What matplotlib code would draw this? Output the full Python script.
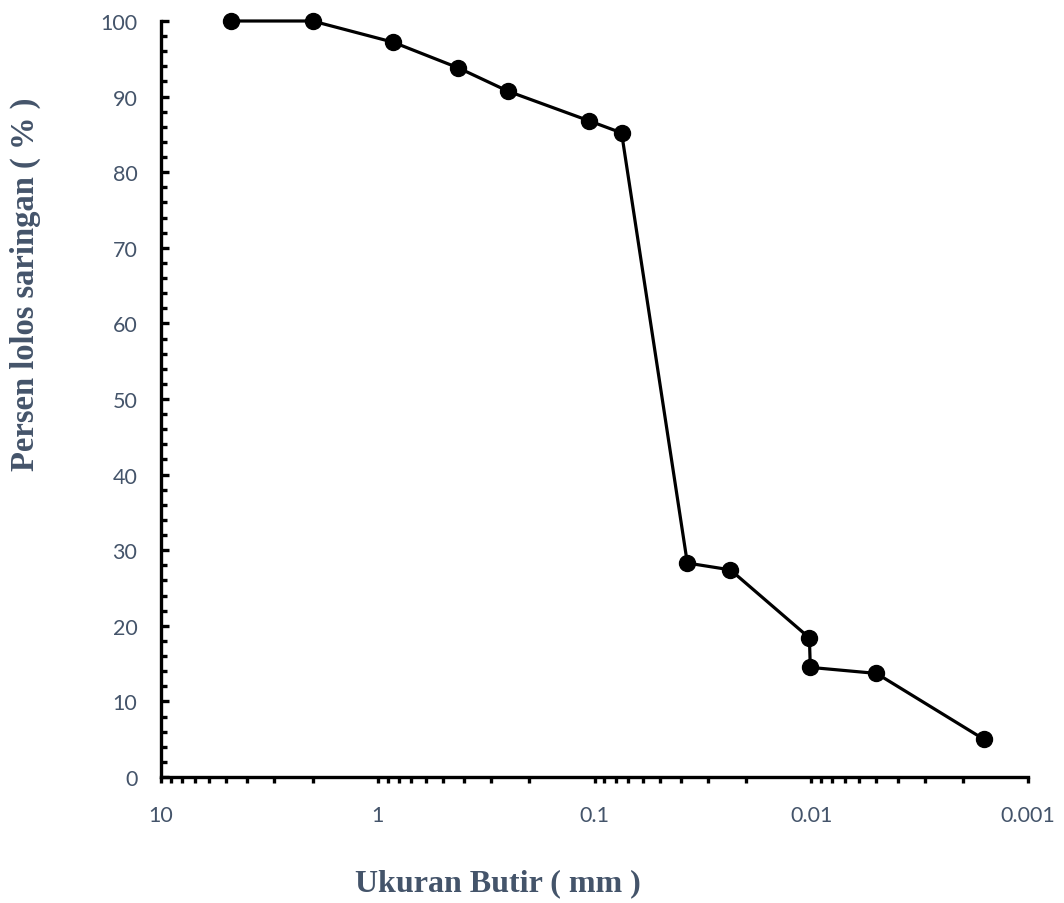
import numpy as np
import matplotlib
matplotlib.use("Agg")
import matplotlib.pyplot as plt
from matplotlib.ticker import FixedLocator, LogLocator, NullFormatter, MultipleLocator

# grain size (mm) and percent passing
ukuran = [4.75, 2.0, 0.85, 0.425, 0.25, 0.106, 0.075, 0.0373, 0.0236, 0.0102, 0.0101, 0.0050, 0.0016]
lolos = [100.0, 100.0, 97.2, 93.8, 90.7, 86.8, 85.2, 28.3, 27.4, 18.4, 14.5, 13.7, 5.0]

x_ticks = [10, 1, 0.1, 0.01, 0.001]
x_labels = ["10", "1", "0.1", "0.01", "0.001"]

teks = "#44546A"

fig = plt.figure(figsize=(10.64, 9.04), dpi=100)
ax = fig.add_axes([161/1064, 1-778/904, (1028-161)/1064, (778-22)/904])

ax.plot(ukuran, lolos, color="black", lw=2.3, marker="o", ms=11.5, clip_on=False, zorder=3)

ax.set_xscale("log")
ax.set_xlim(10, 0.001)
ax.set_ylim(0, 100)

ax.xaxis.set_major_locator(FixedLocator(x_ticks))
ax.set_xticklabels(x_labels)
ax.xaxis.set_minor_locator(LogLocator(base=10, subs=np.arange(2, 10)))
ax.xaxis.set_minor_formatter(NullFormatter())
ax.yaxis.set_major_locator(MultipleLocator(10))
ax.yaxis.set_minor_locator(MultipleLocator(2))

for s in ["top", "right"]:
    ax.spines[s].set_visible(False)
for s in ["left", "bottom"]:
    ax.spines[s].set_linewidth(2.4)

ax.tick_params(axis="x", which="major", direction="out", length=4, width=2.4, pad=16,
               labelsize=15.5, labelcolor=teks)
ax.tick_params(axis="x", which="minor", direction="out", length=4, width=2.4)
ax.tick_params(axis="y", which="major", direction="in", length=6, width=2.4, pad=17,
               labelsize=15.5, labelcolor=teks)
ax.tick_params(axis="y", which="minor", direction="in", length=4, width=2.4)

for lab in ax.get_xticklabels() + ax.get_yticklabels():
    lab.set_fontfamily(["Lato", "DejaVu Sans"])

fig.text(498/1064, 1-884/904, "Ukuran Butir ( mm )", ha="center", va="center",
         fontsize=23, fontweight="bold", family="Liberation Serif", color=teks)
fig.text(25/1064, 1-284/904, "Persen lolos saringan ( % )", ha="center", va="center",
         rotation=90, fontsize=23.5, fontweight="bold", family="Liberation Serif", color=teks)

fig.savefig("out.png", dpi=100)
